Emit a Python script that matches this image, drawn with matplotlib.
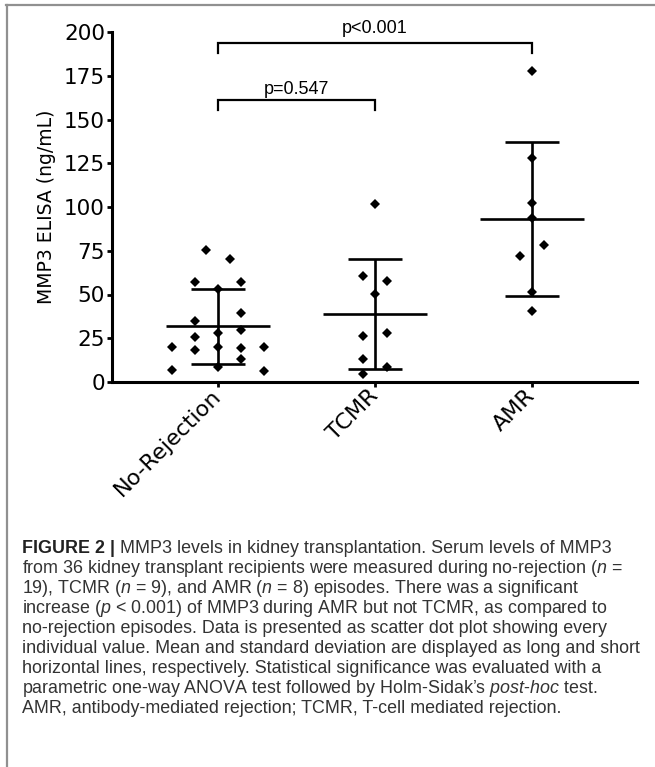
import numpy as np
import matplotlib.pyplot as plt
from matplotlib.lines import Line2D

W, H = 655, 767

plt.rcParams['mathtext.fontset'] = 'custom'
plt.rcParams['mathtext.rm'] = 'Liberation Sans'
plt.rcParams['mathtext.it'] = 'Liberation Sans:italic'

# data (ng/mL)
groups = ["No-Rejection", "TCMR", "AMR"]
no_rejection = [75.4, 70.1, 57.3, 57.3, 53.0, 39.2, 34.9, 28.2, 29.7, 25.5,
                20.2, 18.3, 19.8, 19.2, 19.8, 13.0, 6.9, 8.8, 6.3]
tcmr = [101.5, 60.7, 57.7, 50.1, 26.5, 27.8, 13.1, 8.8, 4.6]
amr = [177.9, 127.8, 102.5, 93.5, 78.3, 72.2, 51.3, 40.6]

# column slot of every dot (scatter dot plot spreading)
no_rejection_slot = [-0.5, 0.5, -1, 1, 0, 1, -1, 0, 1, -1, -2, -1, 0, 1, 2, 1, -2, 0, 2]
tcmr_slot = [0, -0.5, 0.5, 0, -0.5, 0.5, -0.5, 0.5, -0.5]
amr_slot = [0, 0, 0, 0, 0.5, -0.5, 0, 0]

comparisons = [(0, 2, "p<0.001"), (0, 1, "p=0.547")]

caption = [
    "MMP3 levels in kidney transplantation. Serum levels of MMP3",
    "from 36 kidney transplant recipients were measured during no-rejection ($n$ =",
    "19), TCMR ($n$ = 9), and AMR ($n$ = 8) episodes. There was a significant",
    "increase ($p$ < 0.001) of MMP3 during AMR but not TCMR, as compared to",
    "no-rejection episodes. Data is presented as scatter dot plot showing every",
    "individual value. Mean and standard deviation are displayed as long and short",
    "horizontal lines, respectively. Statistical significance was evaluated with a",
    "parametric one-way ANOVA test followed by Holm-Sidak\u2019s $post$-$hoc$ test.",
    "AMR, antibody-mediated rejection; TCMR, T-cell mediated rejection.",
]

values = [no_rejection, tcmr, amr]
slots = [no_rejection_slot, tcmr_slot, amr_slot]

fig = plt.figure(figsize=(W / 100, H / 100), dpi=100)
ax = fig.add_axes([112 / W, 385 / H, 525 / W, 350 / H])

slot_w = 0.147
for i, (v, s) in enumerate(zip(values, slots)):
    v = np.array(v)
    m = v.mean()
    sd = v.std(ddof=1)
    ax.vlines(i, m - sd, m + sd, color='black', lw=1.9, zorder=2)
    ax.hlines([m - sd, m + sd], i - 0.17, i + 0.17, color='black', lw=1.9, zorder=2)
    ax.hlines(m, i - 0.33, i + 0.33, color='black', lw=1.9, zorder=2)
    ax.plot(i + np.array(s) * slot_w, v, 'D', color='black', ms=5.6,
            mew=0, zorder=3, clip_on=False)

# significance brackets
bracket_y = [193.5, 161.0]
label_y = [199.3, 164.3]
for (a, b, txt), by, ty in zip(comparisons, bracket_y, label_y):
    ax.plot([a, a, b, b], [by - 5.3, by, by, by - 5.3], color='black',
            lw=1.6, clip_on=False, solid_joinstyle='miter')
    ax.text((a + b) / 2, ty, txt, ha='center', va='baseline', fontsize=13,
            family='Liberation Sans', clip_on=False)

ax.set_xlim(-0.675, 2.669)
ax.set_ylim(0, 200)
ax.set_yticks(np.arange(0, 201, 25))
ax.set_xticks(range(3))
ax.set_xticklabels(groups, rotation=45, ha='right', va='center',
                   rotation_mode='anchor', fontsize=16, family='DejaVu Sans')
for lab in ax.get_yticklabels():
    lab.set_fontsize(15.5)
    lab.set_family('DejaVu Sans')
ax.set_ylabel("MMP3 ELISA (ng/mL)", fontsize=13.5, family='DejaVu Sans')
ax.yaxis.set_label_coords(-56 / 525, 0.5)

for side in ['top', 'right']:
    ax.spines[side].set_visible(False)
for side in ['left', 'bottom']:
    ax.spines[side].set_linewidth(2.2)
ax.tick_params(axis='y', length=3.5, width=2.0, pad=1.5)
ax.tick_params(axis='x', length=3.5, width=2.0, pad=4)

# frame around figure panel
frame_c = '#909090'
fig.add_artist(Line2D([6 / W, 1], [1 - 4.5 / H, 1 - 4.5 / H], color=frame_c, lw=1.6))
fig.add_artist(Line2D([6.5 / W, 6.5 / W], [0, 1 - 4.5 / H], color=frame_c, lw=1.6))

# caption
cap_fs = 12.85
cap_kw = dict(fontsize=cap_fs, family='Liberation Sans', color='#333333', va='baseline')
for i, line in enumerate(caption):
    y = 1 - (553 + 20 * i) / H
    if i == 0:
        t = fig.text(22 / W, y, "FIGURE 2 |", fontweight='bold', fontsize=cap_fs,
                     family='Liberation Sans', color='#222222', va='baseline')
        ax.annotate(line, xy=(1, y), xycoords=(t, 'figure fraction'),
                    xytext=(3.5, 0), textcoords='offset points',
                    annotation_clip=False, **cap_kw)
    else:
        fig.text(22 / W, y, line, **cap_kw)

fig.savefig("out.png", dpi=100)
